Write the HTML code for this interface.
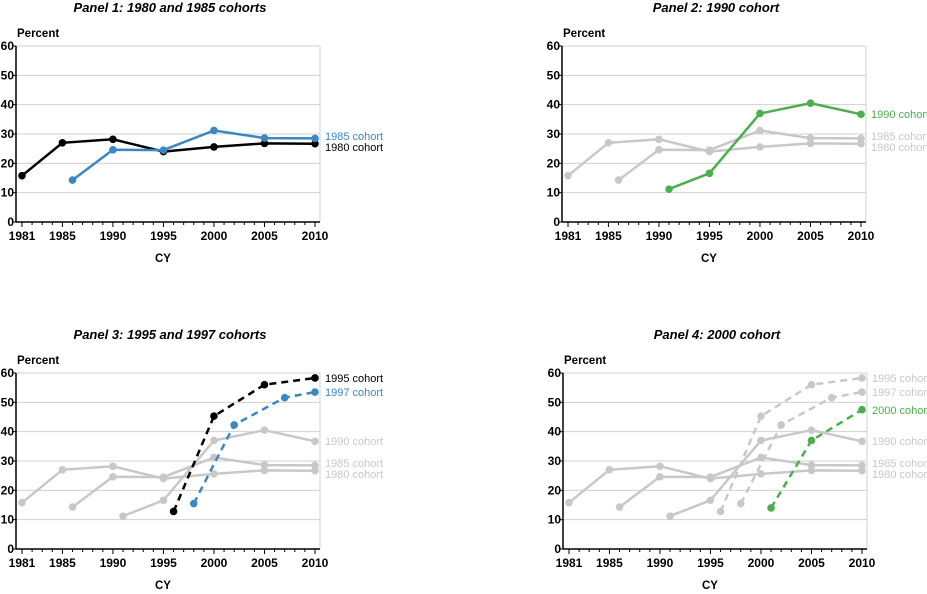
<!DOCTYPE html>
<html><head><meta charset="utf-8"><style>
body{margin:0;background:#fff;}
svg{display:block;font-family:"Liberation Sans",Arial,sans-serif;}
</style></head><body>
<svg id="s" width="927" height="594" xmlns="http://www.w3.org/2000/svg"></svg>
<script>
const D={
c80:{d:[[1981,15.8],[1985,27],[1990,28.2],[1995,24],[2000,25.6],[2005,26.8],[2010,26.7]],n:"1980 cohort"},
c85:{d:[[1986,14.3],[1990,24.6],[1995,24.5],[2000,31.2],[2005,28.6],[2010,28.5]],n:"1985 cohort"},
c90:{d:[[1991,11.2],[1995,16.6],[2000,37],[2005,40.5],[2010,36.7]],n:"1990 cohort"},
c95:{d:[[1996,12.8],[2000,45.3],[2005,56],[2010,58.3]],n:"1995 cohort",dash:1},
c97:{d:[[1998,15.5],[2002,42.3],[2007,51.6],[2010,53.5]],n:"1997 cohort",dash:1},
c00:{d:[[2001,14],[2005,37],[2010,47.5]],n:"2000 cohort",dash:1}};
const G="#c8c8c8",K="#000",B="#3a87c4",GR="#4cae4c";
const panels=[
{ox:0,oy:0,t:"Panel 1: 1980 and 1985 cohorts",s:[["c80",K],["c85",B]],lab:[["c85",B,136],["c80",K,147]]},
{ox:546,oy:0,t:"Panel 2: 1990 cohort",s:[["c80",G],["c85",G],["c90",GR]],lab:[["c90",GR,114],["c85",G,136],["c80",G,147]]},
{ox:0,oy:327,t:"Panel 3: 1995 and 1997 cohorts",s:[["c80",G],["c85",G],["c90",G],["c95",K],["c97",B]],lab:[["c95",K,378],["c97",B,392],["c90",G,441],["c85",G,463],["c80",G,474]]},
{ox:547,oy:327,t:"Panel 4: 2000 cohort",s:[["c80",G],["c85",G],["c90",G],["c95",G],["c97",G],["c00",GR]],lab:[["c95",G,378],["c97",G,392],["c00",GR,410],["c90",G,441],["c85",G,463],["c80",G,474]]}];
let h="";
for(const p of panels){
 const X=y=>p.ox+22+(y-1981)*(293/29), Y=v=>p.oy+222-v*176/60;
 const L=p.ox+16,R=p.ox+320;
 h+=`<text x="${p.ox+170}" y="${p.oy+12}" font-size="13" font-weight="bold" font-style="italic" text-anchor="middle">${p.t}</text>`;
 h+=`<text x="${p.ox+17}" y="${p.oy+37}" font-size="11.5" font-weight="bold">Percent</text>`;
 for(let v=10;v<=60;v+=10)h+=`<line x1="${L}" x2="${R}" y1="${Y(v)}" y2="${Y(v)}" stroke="#d0d0d0" stroke-width="1"/>`;
 h+=`<line x1="${R}" x2="${R}" y1="${Y(60)}" y2="${Y(0)}" stroke="#d0d0d0"/>`;
 for(let v=0;v<=60;v+=10){h+=`<text x="${L-2}" y="${Y(v)+4}" font-size="12" font-weight="bold" text-anchor="end">${v}</text><line x1="${L-3}" x2="${L}" y1="${Y(v)}" y2="${Y(v)}" stroke="#000"/>`;}
 for(let yr=1981;yr<=2010;yr++){const big=[1981,1985,1990,1995,2000,2005,2010].includes(yr);h+=`<line x1="${X(yr)}" x2="${X(yr)}" y1="${Y(0)}" y2="${Y(0)+(big?5:3)}" stroke="#000"/>`;if(big)h+=`<text x="${X(yr)}" y="${Y(0)+18}" font-size="12" font-weight="bold" text-anchor="middle">${yr}</text>`;}
 h+=`<line x1="${L}" x2="${L}" y1="${Y(60)}" y2="${Y(0)}" stroke="#000" stroke-width="1.5"/><line x1="${L}" x2="${R}" y1="${Y(0)}" y2="${Y(0)}" stroke="#000" stroke-width="1.5"/>`;
 h+=`<text x="${p.ox+163}" y="${p.oy+262}" font-size="11.5" font-weight="bold" text-anchor="middle">CY</text>`;
 for(const [k,c] of p.s){const s=D[k];const pts=s.d.map(q=>X(q[0]).toFixed(1)+","+Y(q[1]).toFixed(1)).join(" ");
  h+=`<polyline points="${pts}" fill="none" stroke="${c}" stroke-width="2.5" ${s.dash?'stroke-dasharray="7,5"':''}/>`;
  for(const q of s.d)h+=`<circle cx="${X(q[0])}" cy="${Y(q[1])}" r="3.8" fill="${c}"/>`;}
 for(const [k,c,yy] of p.lab)h+=`<text x="${R+5}" y="${yy+4}" font-size="11" fill="${c}">${D[k].n}</text>`;
}
document.getElementById("s").innerHTML=h;
</script>
</body></html>
